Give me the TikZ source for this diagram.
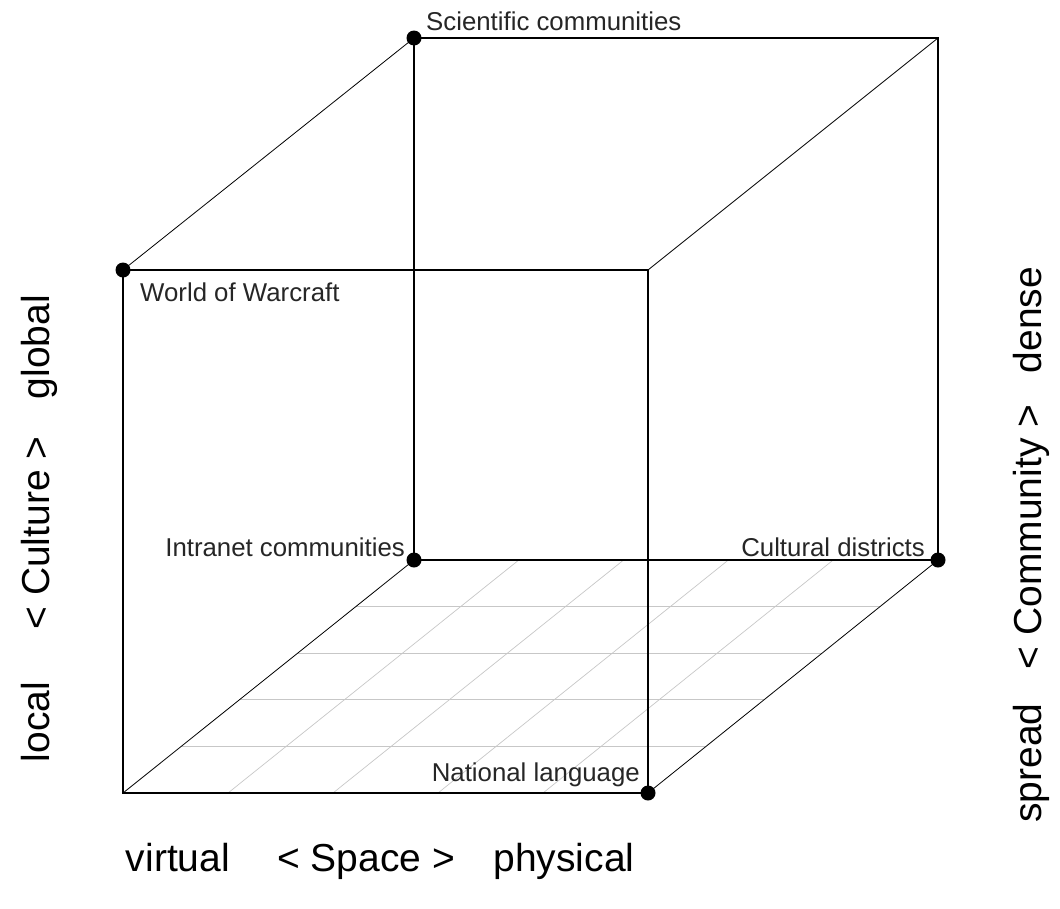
\documentclass[tikz,border=0pt]{standalone}
\usepackage{fontspec}
\setmainfont{Liberation Sans}
\usetikzlibrary{calc}

\begin{document}
\begin{tikzpicture}[x=1pt, y=-1pt,
  edge/.style={line width=1.1pt},
  depth/.style={line width=0.8pt},
  gridline/.style={line width=0.7pt, black!22},
  dot/.style={circle, fill, inner sep=0pt, minimum size=15pt},
  corner/.style={font=\fontsize{25.8}{30}\selectfont, text=black!85, inner sep=0pt},
  axis/.style={font=\fontsize{39}{45}\selectfont, inner sep=0pt, anchor=base}]
\useasboundingbox (0,0) rectangle (1060,908);
% cube corners
\coordinate (ftl) at (123,270);
\coordinate (ftr) at (648,270);
\coordinate (fbl) at (123,793);
\coordinate (fbr) at (648,793);
\coordinate (btl) at (414,38);
\coordinate (btr) at (938,38);
\coordinate (bbl) at (414,560);
\coordinate (bbr) at (938,560);
% floor grid
\foreach \i in {1,...,4} {
  \draw[gridline] ($(fbl)!\i/5!(bbl)$) -- ($(fbr)!\i/5!(bbr)$);
  \draw[gridline] ($(fbl)!\i/5!(fbr)$) -- ($(bbl)!\i/5!(bbr)$);
}
\draw[edge] (ftl) rectangle (fbr);
\draw[edge] (btl) rectangle (bbr);
\draw[depth] (ftl) -- (btl);
\draw[depth] (ftr) -- (btr);
\draw[depth] (fbl) -- (bbl);
\draw[depth] (fbr) -- (bbr);
% marked corners
\node[dot] (sci) at (btl) {};
\node[dot] (wow) at (ftl) {};
\node[dot] (intra) at (bbl) {};
\node[dot] (cult) at (bbr) {};
\node[dot] (nat) at (fbr) {};
\node[corner, anchor=base west] at (426,30) {Scientific communities};
\node[corner, anchor=base west] at (140,301) {World of Warcraft};
\node[corner, anchor=base east] at (405,556) {Intranet communities};
\node[corner, anchor=base east] at (925,556) {Cultural districts};
\node[corner, anchor=base east] at (640,781) {National language};
% axis labels
\node[axis] (virt) at (178,871) {virtual};
\node[axis] (space) at (366,871) {< Space >};
\node[axis] (phys) at (564,871) {physical};
\node[axis, rotate=90] (loc) at (49,722) {local};
\node[axis, rotate=90] (cultax) at (49,533) {< Culture >};
\node[axis, rotate=90] (glob) at (49,347) {global};
\node[axis, rotate=90] (spr) at (1041,763) {spread};
\node[axis, rotate=90] (comm) at (1041,537) {< Community >};
\node[axis, rotate=90] (dens) at (1041,320) {dense};
\end{tikzpicture}
\end{document}
